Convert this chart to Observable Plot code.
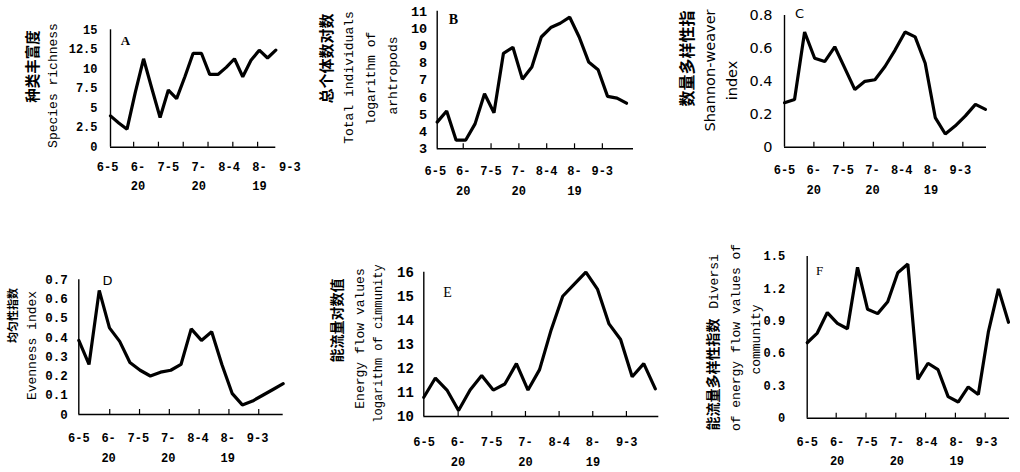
<!DOCTYPE html>
<html><head><meta charset="utf-8">
<script src="https://cdn.jsdelivr.net/npm/d3@7"></script>
<script src="https://cdn.jsdelivr.net/npm/@observablehq/plot@0.6"></script>
<style>
html,body{margin:0;padding:0;background:#fff;overflow:hidden}
#wrap{position:relative;width:1020px;height:472px;background:#fff}
#wrap svg{position:absolute;left:0;top:0}
</style></head><body><div id="wrap"></div>
<script>
// sampling dates (every 5 days), index = x position
const sampleDates = ["6-5","6-10","6-15","6-20","6-25","6-30","7-5","7-10","7-15","7-20","7-25","7-30","8-4","8-9","8-14","8-19","8-24","8-29","9-3","9-8","9-13"];
const axisLabels = ["6-5","6-\n20","7-5","7-\n20","8-4","8-\n19","9-3"];
const axisLabelIndex = [0,3,6,9,12,15,18];
const tickIndex = [3,6,9,12,15,18];

// series values
const richness        = [4.0,3.1,2.3,7.0,11.3,7.5,3.8,7.3,6.2,9.0,12.0,12.0,9.3,9.3,10.2,11.3,9.0,11.1,12.4,11.4,12.4];
const logIndividuals  = [4.55,5.2,3.5,3.5,4.45,6.2,5.1,8.55,8.9,7.05,7.75,9.5,10.05,10.3,10.65,9.5,8.05,7.6,6.05,5.95,5.65];
const shannon         = [0.27,0.29,0.70,0.54,0.52,0.61,0.48,0.35,0.40,0.41,0.49,0.59,0.70,0.67,0.51,0.18,0.08,0.13,0.19,0.26,0.23];
const evenness        = [0.385,0.26,0.645,0.45,0.38,0.27,0.23,0.20,0.22,0.23,0.26,0.445,0.385,0.43,0.26,0.11,0.05,0.07,0.10,0.13,0.16];
const logEnergy       = [10.8,11.6,11.1,10.25,11.1,11.7,11.1,11.35,12.2,11.1,11.95,13.6,15.0,15.5,16.0,15.3,13.85,13.2,11.65,12.2,11.15];
const energyDiversity = [0.70,0.79,0.98,0.88,0.83,1.40,1.01,0.97,1.08,1.35,1.43,0.36,0.51,0.45,0.20,0.15,0.29,0.22,0.80,1.20,0.89];

// y tick values
const ticksA = [0,2.5,5,7.5,10,12.5,15];
const ticksB = [3,4,5,6,7,8,9,10,11];
const ticksC = [0,0.2,0.4,0.6,0.8];
const ticksD = [0,0.1,0.2,0.3,0.4,0.5,0.6,0.7];
const ticksE = [10,11,12,13,14,15,16];
const ticksF = [0,0.3,0.6,0.9,1.2,1.5];

const MONO = "'Liberation Mono', monospace";
const CJK = "'Noto Sans CJK SC', sans-serif";
const SERIF = "'Liberation Serif', serif";
const SANS = "'DejaVu Sans', sans-serif";
const W = 1020, H = 472;

const panels = [
  {values: richness, ticks: ticksA, left:110, right:275.3, top:29.3, bottom:146.7, xEnd:20,
   pad:13, tfs:12, tff:MONO, tfw:"bold", row1:18.5, rowGap:19.5, tk:[1.0,-0.2], lab:[1.2256,-0.36],
   letter:{t:"A", x:125, y:40, fs:13, ff:SERIF, fw:"bold"},
   ylabels:[{t:"种类丰富度", x:33, y:66, fs:14.5, ff:CJK, fw:"bold"},
            {t:"Species richness", x:52, y:85, fs:13, ff:MONO}]},
  {values: logIndividuals, ticks: ticksB, left:436.7, right:633, top:10.7, bottom:148.3, xEnd:20.74,
   pad:10, tfs:13.5, tff:MONO, tfw:"bold", row1:21, rowGap:20, tk:[0.98,-0.19], lab:[0.98,-0.2],
   letter:{t:"B", x:453, y:19, fs:14, ff:SERIF, fw:"bold"},
   ylabels:[{t:"总个体数对数", x:327, y:58, fs:15, ff:CJK, fw:"bold"},
            {t:"Total individuals", x:348, y:77, fs:13, ff:MONO},
            {t:"logarithm of", x:370, y:78, fs:13, ff:MONO},
            {t:"arhtropods", x:392, y:75, fs:13, ff:MONO}]},
  {values: shannon, ticks: ticksC, left:784, right:986, top:15, bottom:146.7, xEnd:20.1,
   pad:12, tfs:14.5, tff:SANS, tfw:"normal", row1:21.6, rowGap:20, tk:[0.988,-0.04], lab:[0.972,0],
   letter:{t:"C", x:799, y:13, fs:13, ff:SANS},
   ylabels:[{t:"数量多样性指", x:687, y:58, fs:16, ff:CJK, fw:"bold"},
            {t:"Shannon-weaver", x:710, y:70, fs:14.5, ff:SANS},
            {t:"index", x:732, y:80, fs:14.5, ff:SANS}]},
  {values: evenness, ticks: ticksD, left:78.3, right:282.7, top:279.3, bottom:414, xEnd:20,
   pad:11, tfs:12.5, tff:MONO, tfw:"bold", row1:22.7, rowGap:20, tk:[0.972,0.11], lab:[0.972,0],
   letter:{t:"D", x:107, y:280, fs:13, ff:SANS},
   ylabels:[{t:"均匀性指数", x:13, y:315, fs:11, ff:CJK, fw:"bold"},
            {t:"Evenness index", x:31, y:345, fs:13, ff:MONO}]},
  {values: logEnergy, ticks: ticksE, left:423.3, right:658.3, top:271.7, bottom:416, xEnd:20.3,
   pad:10, tfs:14, tff:MONO, tfw:"bold", row1:24.7, rowGap:19.5, tk:[0.969,0.06], lab:[0.972,0.03],
   letter:{t:"E", x:447, y:292, fs:14, ff:SERIF},
   ylabels:[{t:"能流量对数值", x:337, y:320, fs:14, ff:CJK, fw:"bold"},
            {t:"Energy flow values", x:359, y:338, fs:13, ff:MONO},
            {t:"logarithm of cimmunity", x:378, y:343, fs:12, ff:MONO}]},
  {values: energyDiversity, ticks: ticksF, left:806.7, right:1009, top:256, bottom:417.7, xEnd:20.1,
   pad:22, tfs:12, tff:MONO, tfw:"bold", row1:23.3, rowGap:19, tk:[0.987,-0.08], lab:[0.99,0],
   letter:{t:"F", x:819, y:270, fs:13, ff:SERIF},
   ylabels:[{t:"能流量多样性指数", x:713, y:374, fs:14, ff:CJK, fw:"bold"},
            {t:"Diversi", x:713, y:281, fs:13, ff:MONO},
            {t:"of energy flow values of", x:735, y:337, fs:13, ff:MONO},
            {t:"community", x:755, y:339, fs:13, ff:MONO}]}
];

function panel(c) {
  const data = c.values.map((v, i) => ({i, v, date: sampleDates[i]}));
  const ymin = c.ticks[0], ymax = c.ticks[c.ticks.length - 1];
  const tickLen = (ymax - ymin) * 5 / (c.bottom - c.top);
  const labels = axisLabels.map((t, k) => ({t, x: c.lab[1] + c.lab[0] * axisLabelIndex[k]}));
  const xticks = tickIndex.map(d => c.tk[1] + c.tk[0] * d);
  const freeText = (o) => Plot.text([o.t], {
    text: d => d, frameAnchor: "top-left", dx: o.x - c.left, dy: o.y - c.top,
    textAnchor: "middle", lineAnchor: "middle", rotate: o.rot || 0,
    fontSize: o.fs, fontFamily: o.ff, fontWeight: o.fw || "normal", fill: "#000"
  });
  const marks = [
    Plot.ruleX([0], {stroke: "#000", strokeWidth: 1.4}),
    Plot.ruleY([ymin], {stroke: "#000", strokeWidth: 1.4}),
    Plot.ruleX(xticks, {x: d => d, y1: () => ymin, y2: () => ymin + tickLen, stroke: "#000", strokeWidth: 1.2}),
    Plot.axisY({ticks: c.ticks, tickSize: 0, tickPadding: c.pad, tickFormat: d => String(d),
                fontSize: c.tfs, fontFamily: c.tff, fontWeight: c.tfw, label: null, fill: "#000"}),
    Plot.text(labels, {x: "x", text: "t", frameAnchor: "bottom", textAnchor: "middle", lineAnchor: "top",
                       dy: c.row1 - 9, lineHeight: c.rowGap / 12, fontSize: 12, fontFamily: MONO,
                       fontWeight: "bold", fill: "#000"}),
    Plot.line(data, {x: "i", y: "v", stroke: "#000", strokeWidth: 3.2, strokeLinejoin: "miter"}),
    freeText(c.letter),
    ...c.ylabels.map(l => freeText({...l, rot: -90}))
  ];
  return Plot.plot({
    width: W, height: H,
    marginLeft: c.left, marginRight: W - c.right, marginTop: c.top, marginBottom: H - c.bottom,
    x: {domain: [0, c.xEnd], axis: null},
    y: {domain: [ymin, ymax]},
    style: {background: "transparent", color: "#000", overflow: "visible"},
    marks
  });
}

const wrap = document.getElementById("wrap");
panels.forEach(c => wrap.appendChild(panel(c)));
</script>
</body></html>
